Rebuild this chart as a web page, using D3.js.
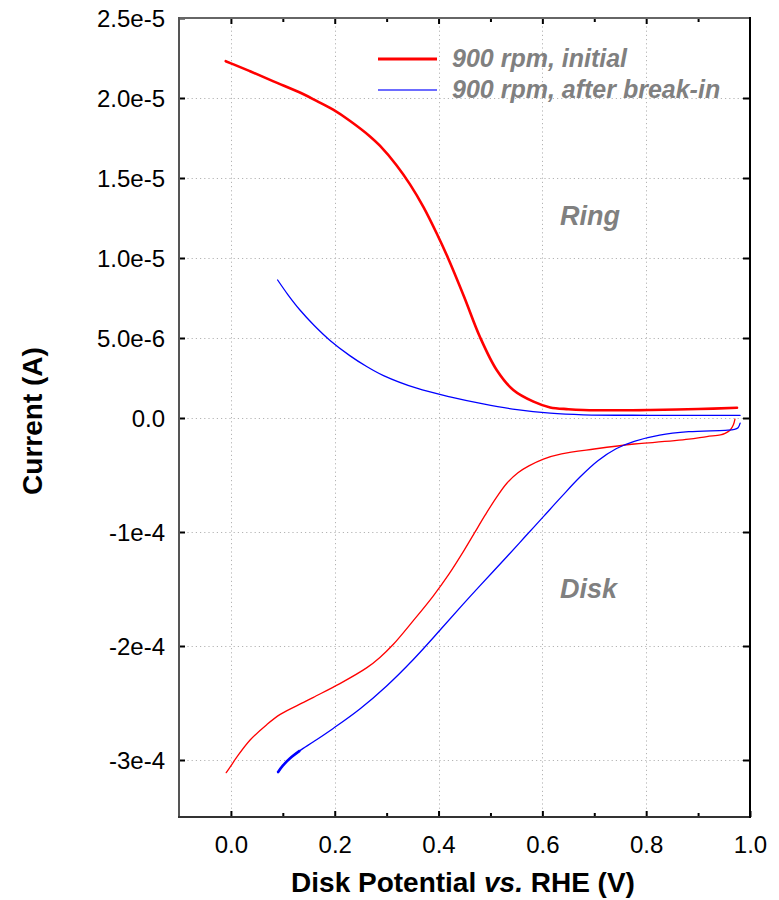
<!DOCTYPE html>
<html><head><meta charset="utf-8">
<script src="https://cdn.jsdelivr.net/npm/d3@7"></script>
<style>body{margin:0;background:#fff}</style>
</head><body>
<script>
// ---------- data ----------
const xTicks = [0, 0.2, 0.4, 0.6, 0.8, 1.0];
const xTickLabels = ["0.0", "0.2", "0.4", "0.6", "0.8", "1.0"];
const xMinorTicks = [0.1, 0.3, 0.5, 0.7, 0.9];
const ringTicks = [0, 5e-6, 1e-5, 1.5e-5, 2e-5, 2.5e-5];
const ringTickLabels = ["0.0", "5.0e-6", "1.0e-5", "1.5e-5", "2.0e-5", "2.5e-5"];
const diskTicks = [-1e-4, -2e-4, -3e-4];
const diskTickLabels = ["-1e-4", "-2e-4", "-3e-4"];
const seriesNames = ["900 rpm, initial", "900 rpm, after break-in"];
const panelLabels = ["Ring", "Disk"];

// Ring current, initial (A)
const ringInitialV = [-0.010, 0.005, 0.037, 0.082, 0.139, 0.165, 0.197, 0.229, 0.268, 0.287, 0.319, 0.345, 0.371, 0.397, 0.418, 0.449, 0.480, 0.512, 0.544, 0.583, 0.615, 0.650, 0.679, 0.750, 0.808, 0.900, 0.975];
const ringInitialI = [22.3e-6, 22.1e-6, 21.67e-6, 21.04e-6, 20.25e-6, 19.82e-6, 19.27e-6, 18.58e-6, 17.6e-6, 17.02e-6, 15.8e-6, 14.6e-6, 13.18e-6, 11.5e-6, 10.02e-6, 7.6e-6, 5.05e-6, 3.0e-6, 1.75e-6, 1.02e-6, 0.66e-6, 0.55e-6, 0.5e-6, 0.48e-6, 0.5e-6, 0.56e-6, 0.64e-6];
// Ring current, after break-in (A)
const ringBreakV = [0.090, 0.110, 0.133, 0.160, 0.191, 0.229, 0.260, 0.294, 0.358, 0.422, 0.486, 0.551, 0.615, 0.679, 0.808, 0.981];
const ringBreakI = [8.625e-6, 7.7e-6, 6.75e-6, 5.8e-6, 4.85e-6, 3.9e-6, 3.25e-6, 2.65e-6, 1.86e-6, 1.32e-6, 0.88e-6, 0.52e-6, 0.3e-6, 0.2e-6, 0.17e-6, 0.17e-6];
// Disk current, initial (A)
const diskInitialV = [-0.009, -0.001, 0.012, 0.037, 0.069, 0.095, 0.140, 0.159, 0.210, 0.262, 0.287, 0.313, 0.351, 0.390, 0.420, 0.448, 0.469, 0.490, 0.511, 0.532, 0.553, 0.574, 0.602, 0.637, 0.700, 0.777, 0.812, 0.882, 0.917, 0.943, 0.952, 0.962, 0.968, 0.971];
const diskInitialI = [-3.111e-4, -3.058e-4, -2.971e-4, -2.825e-4, -2.69e-4, -2.60e-4, -2.495e-4, -2.45e-4, -2.33e-4, -2.19e-4, -2.10e-4, -1.985e-4, -1.78e-4, -1.56e-4, -1.37e-4, -1.17e-4, -1.01e-4, -0.85e-4, -0.70e-4, -0.57e-4, -0.48e-4, -0.42e-4, -0.36e-4, -0.315e-4, -0.272e-4, -0.228e-4, -0.216e-4, -0.186e-4, -0.163e-4, -0.149e-4, -0.135e-4, -0.105e-4, -0.06e-4, -0.01e-4];
// Disk current, after break-in (A)
const diskBreakV = [0.090, 0.100, 0.114, 0.133, 0.159, 0.197, 0.249, 0.300, 0.351, 0.403, 0.447, 0.480, 0.532, 0.567, 0.602, 0.637, 0.672, 0.707, 0.742, 0.777, 0.826, 0.882, 0.952, 0.970, 0.977, 0.981];
const diskBreakI = [-3.111e-4, -3.05e-4, -2.985e-4, -2.918e-4, -2.84e-4, -2.723e-4, -2.55e-4, -2.35e-4, -2.12e-4, -1.86e-4, -1.635e-4, -1.47e-4, -1.215e-4, -1.04e-4, -0.865e-4, -0.69e-4, -0.52e-4, -0.375e-4, -0.27e-4, -0.205e-4, -0.150e-4, -0.120e-4, -0.108e-4, -0.100e-4, -0.085e-4, -0.045e-4];

// ---------- layout ----------
const W = 779, H = 900;
const L = 179, R = 750, T = 18, Z = 418, B = 817;
const FONT = "'Liberation Sans', Arial, Helvetica, sans-serif";

const x = d3.scaleLinear().domain([-0.1, 1.0]).range([L, R]);
const yRing = d3.scaleLinear().domain([0, 2.5e-5]).range([Z, T]);
const yDisk = d3.scaleLinear().domain([-3.5e-4, 0]).range([B, Z]);

const svg = d3.select("body").append("svg")
  .attr("width", W).attr("height", H)
  .style("font-family", FONT);

// grid
const grid = svg.append("g").attr("stroke", "#b4b4b4").attr("stroke-width", 1).attr("stroke-dasharray", "1.2,3");
grid.selectAll("line.v").data(xTicks.filter(d => d < 1)).join("line")
  .attr("x1", d => Math.round(x(d)) + 0.5).attr("x2", d => Math.round(x(d)) + 0.5)
  .attr("y1", T).attr("y2", B);
grid.selectAll("line.hr").data(ringTicks.filter(d => d < 2.5e-5)).join("line").attr("class", "hr")
  .attr("x1", L).attr("x2", R)
  .attr("y1", d => Math.round(yRing(d)) + 0.5).attr("y2", d => Math.round(yRing(d)) + 0.5);
grid.selectAll("line.hd").data(diskTicks).join("line").attr("class", "hd")
  .attr("x1", L).attr("x2", R)
  .attr("y1", d => Math.round(yDisk(d)) + 0.5).attr("y2", d => Math.round(yDisk(d)) + 0.5);

// curves
const line = d3.line().x(d => x(d[0])).curve(d3.curveCatmullRom.alpha(0.5));
function drawSeries(vs, is, yS, color, w) {
  const pts = vs.map((v, i) => [v, is[i]]);
  svg.append("path").datum(pts)
    .attr("fill", "none").attr("stroke", color).attr("stroke-width", w)
    .attr("stroke-linejoin", "round").attr("stroke-linecap", "round")
    .attr("d", line.y(d => yS(d[1])));
  return pts;
}
drawSeries(ringInitialV, ringInitialI, yRing, "#ff0000", 2.6);
drawSeries(ringBreakV, ringBreakI, yRing, "#0000ff", 1.3);
drawSeries(diskInitialV, diskInitialI, yDisk, "#ff0000", 1.3);
const db = drawSeries(diskBreakV, diskBreakI, yDisk, "#0000ff", 1.3);
// noisy thick start of the break-in disk sweep
svg.append("path").datum(db.filter(d => d[0] <= 0.134))
  .attr("fill", "none").attr("stroke", "#0000ff").attr("stroke-width", 2.6)
  .attr("d", line.y(d => yDisk(d[1])));

// axes
function styleAxis(g) {
  g.select(".domain").remove();
  g.selectAll(".tick line").attr("stroke", "#000").attr("stroke-width", 2);
  g.selectAll(".tick text").attr("fill", "#000").style("font-size", "24px").style("font-family", FONT);
}
svg.append("g").attr("transform", `translate(${L},0)`)
  .call(d3.axisLeft(yRing).tickValues(ringTicks).tickFormat((d, i) => ringTickLabels[i])
    .tickSizeInner(-6).tickSizeOuter(0).tickPadding(14))
  .call(styleAxis).call(g => g.selectAll(".tick text").attr("dy", "0.36em"));
svg.append("g").attr("transform", `translate(${L},0)`)
  .call(d3.axisLeft(yDisk).tickValues(diskTicks).tickFormat((d, i) => diskTickLabels[i])
    .tickSizeInner(-6).tickSizeOuter(0).tickPadding(14))
  .call(styleAxis).call(g => g.selectAll(".tick text").attr("dy", "0.36em"));
svg.append("g").attr("transform", `translate(${R},0)`)
  .call(d3.axisRight(yRing).tickValues(ringTicks.filter(d => d > 0 && d < 2.5e-5)).tickFormat("").tickSizeInner(-7).tickSizeOuter(0))
  .call(styleAxis);
svg.append("g").attr("transform", `translate(${R},0)`)
  .call(d3.axisRight(yDisk).tickValues([0].concat(diskTicks)).tickFormat("").tickSizeInner(-7).tickSizeOuter(0))
  .call(styleAxis);
svg.append("g").attr("transform", `translate(0,${B})`)
  .call(d3.axisBottom(x).tickValues(xTicks).tickFormat((d, i) => xTickLabels[i])
    .tickSizeInner(-6).tickSizeOuter(0).tickPadding(19))
  .call(styleAxis);
svg.append("g").attr("transform", `translate(0,${B})`)
  .call(d3.axisBottom(x).tickValues(xMinorTicks).tickFormat("").tickSizeInner(-4).tickSizeOuter(0))
  .call(styleAxis);
svg.append("g").attr("transform", `translate(0,${T})`)
  .call(d3.axisTop(x).tickValues(xTicks.filter(d => d < 1)).tickFormat("").tickSizeInner(-6).tickSizeOuter(0))
  .call(styleAxis);
svg.append("g").attr("transform", `translate(0,${T})`)
  .call(d3.axisTop(x).tickValues(xMinorTicks).tickFormat("").tickSizeInner(-4).tickSizeOuter(0))
  .call(styleAxis);

// frame
const frame = svg.append("g").attr("stroke-width", 2).attr("stroke-linecap", "square");
frame.append("line").attr("x1", L).attr("x2", R).attr("y1", T).attr("y2", T).attr("stroke", "#666");
frame.append("line").attr("x1", L).attr("x2", L).attr("y1", T).attr("y2", B).attr("stroke", "#555");
frame.append("line").attr("x1", L).attr("x2", R).attr("y1", B).attr("y2", B).attr("stroke", "#333");
frame.append("line").attr("x1", R).attr("x2", R).attr("y1", T).attr("y2", B).attr("stroke", "#000");

// legend
const legendColors = ["#ff0000", "#3b3bff"];
const legendWidths = [3, 1.6];
const legendY = [59, 90];
seriesNames.forEach((name, i) => {
  svg.append("line").attr("x1", 378).attr("x2", 437).attr("y1", legendY[i]).attr("y2", legendY[i])
    .attr("stroke", legendColors[i]).attr("stroke-width", legendWidths[i]);
  svg.append("text").attr("x", 452).attr("y", legendY[i] + 8)
    .attr("fill", "#808080").style("font-size", "25px").style("font-weight", "bold").style("font-style", "italic")
    .text(name);
});

// panel labels
const panelY = [225, 598];
panelLabels.forEach((t, i) => {
  svg.append("text").attr("x", 560).attr("y", panelY[i])
    .attr("fill", "#808080").style("font-size", "27px").style("font-weight", "bold").style("font-style", "italic")
    .text(t);
});

// axis titles
const xt = svg.append("text").attr("x", 463).attr("y", 892).attr("text-anchor", "middle")
  .style("font-size", "28px").style("font-weight", "bold").attr("fill", "#000");
xt.append("tspan").text("Disk Potential ");
xt.append("tspan").style("font-style", "italic").text("vs.");
xt.append("tspan").text(" RHE (V)");

svg.append("text").attr("transform", "translate(42,421) rotate(-90)").attr("text-anchor", "middle")
  .style("font-size", "28px").style("font-weight", "bold").attr("fill", "#000")
  .text("Current (A)");
</script>
</body></html>
